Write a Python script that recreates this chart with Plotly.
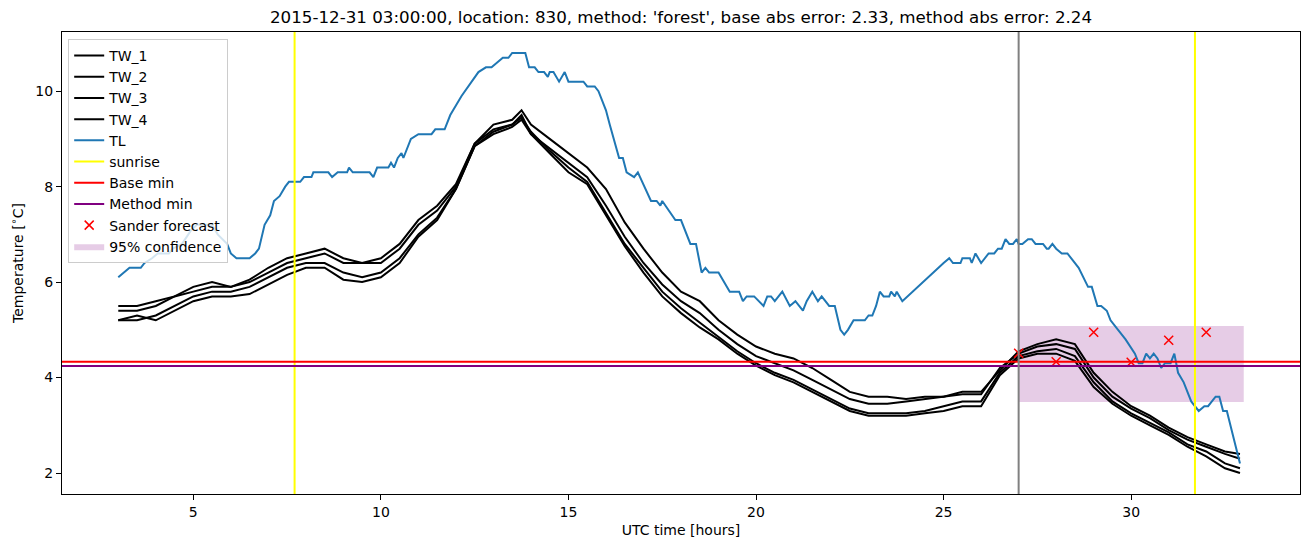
import plotly.graph_objects as go

# time axis of the TW sensors [hours, UTC]
tw_hours = [3.0, 3.5, 4.0, 4.5, 5.0, 5.5, 6.0, 6.5, 7.0, 7.5, 8.0, 8.5, 9.0, 9.5, 10.0, 10.5,
            11.0, 11.5, 12.0, 12.5, 13.0, 13.5, 13.75, 14.0, 14.5, 15.0, 15.5, 16.0, 16.5, 17.0,
            17.5, 18.0, 18.5, 19.0, 19.5, 20.0, 20.5, 21.0, 21.5, 22.0, 22.5, 23.0, 23.5, 24.0,
            24.5, 25.0, 25.5, 26.0, 26.5, 27.0, 27.5, 28.0, 28.5, 29.0, 29.5, 30.0, 30.5, 31.0,
            31.5, 32.0, 32.5, 32.9]

tw_1 = [5.5, 5.5, 5.6, 5.7, 5.9, 6.0, 5.9, 6.05, 6.3, 6.5, 6.6, 6.7, 6.5, 6.4, 6.5, 6.8,
        7.3, 7.6, 8.05, 8.9, 9.3, 9.4, 9.6, 9.3, 9.0, 8.7, 8.4, 7.95, 7.25, 6.7,
        6.2, 5.8, 5.6, 5.2, 4.9, 4.65, 4.5, 4.4, 4.2, 3.95, 3.7, 3.6, 3.6, 3.55,
        3.6, 3.6, 3.7, 3.7, 4.15, 4.55, 4.7, 4.8, 4.7, 4.1, 3.7, 3.4, 3.2, 2.95,
        2.75, 2.6, 2.45, 2.4]

tw_2 = [5.4, 5.4, 5.5, 5.7, 5.8, 5.9, 5.9, 6.0, 6.2, 6.4, 6.5, 6.6, 6.4, 6.4, 6.4, 6.7,
        7.2, 7.5, 8.0, 8.9, 9.2, 9.3, 9.5, 9.1, 8.8, 8.5, 8.2, 7.6, 6.95, 6.4,
        5.95, 5.6, 5.35, 5.0, 4.7, 4.45, 4.3, 4.15, 3.95, 3.75, 3.55, 3.45, 3.45, 3.5,
        3.55, 3.6, 3.65, 3.65, 4.2, 4.5, 4.65, 4.7, 4.6, 4.0, 3.6, 3.35, 3.15, 2.9,
        2.7, 2.55, 2.4, 2.3]

tw_3 = [5.2, 5.2, 5.3, 5.5, 5.7, 5.8, 5.8, 5.9, 6.1, 6.3, 6.4, 6.4, 6.2, 6.1, 6.2, 6.5,
        7.0, 7.35, 7.95, 8.85, 9.15, 9.3, 9.45, 9.15, 8.75, 8.4, 8.1, 7.45, 6.8, 6.3,
        5.8, 5.45, 5.15, 4.85, 4.55, 4.3, 4.1, 3.95, 3.75, 3.55, 3.35, 3.25, 3.25, 3.25,
        3.3, 3.4, 3.5, 3.5, 4.1, 4.45, 4.55, 4.6, 4.45, 3.9, 3.5, 3.25, 3.05, 2.85,
        2.6, 2.45, 2.2, 2.1]

tw_4 = [5.2, 5.3, 5.2, 5.4, 5.6, 5.7, 5.7, 5.75, 5.95, 6.15, 6.3, 6.3, 6.05, 6.0, 6.1, 6.4,
        6.95, 7.3, 7.95, 8.85, 9.1, 9.25, 9.4, 9.1, 8.7, 8.3, 8.05, 7.4, 6.75, 6.2,
        5.7, 5.35, 5.05, 4.8, 4.5, 4.25, 4.05, 3.9, 3.7, 3.5, 3.3, 3.2, 3.2, 3.2,
        3.25, 3.3, 3.4, 3.4, 4.05, 4.4, 4.5, 4.5, 4.35, 3.8, 3.45, 3.2, 3.0, 2.8,
        2.55, 2.35, 2.1, 2.0]

# air temperature TL
tl_hours = [3.0, 3.15, 3.3, 3.6, 3.7, 3.9, 4.05, 4.35, 4.45, 4.7, 4.95, 5.1, 5.5, 5.65, 5.9,
            6.0, 6.15, 6.5, 6.65, 6.75, 6.9, 7.05, 7.15, 7.3, 7.45, 7.55, 7.85, 7.95, 8.15,
            8.2, 8.6, 8.7, 8.85, 9.1, 9.15, 9.25, 9.7, 9.8, 9.9, 10.2, 10.27, 10.35, 10.45,
            10.55, 10.6, 10.8, 11.0, 11.35, 11.45, 11.7, 11.85, 12.15, 12.5, 12.6, 12.8,
            12.95, 13.1, 13.25, 13.4, 13.5, 13.85, 13.95, 14.1, 14.2, 14.35, 14.45, 14.5,
            14.6, 14.75, 14.9, 15.0, 15.4, 15.5, 15.7, 15.8, 16.0, 16.1, 16.35, 16.45, 16.55,
            16.75, 16.85, 17.2, 17.35, 17.45, 17.5, 17.85, 18.0, 18.25, 18.4, 18.55, 18.65,
            18.75, 19.0, 19.3, 19.55, 19.65, 19.75, 19.95, 20.2, 20.3, 20.4, 20.5, 20.7,
            20.9, 21.05, 21.25, 21.35, 21.5, 21.65, 21.75, 21.95, 22.1, 22.25, 22.35, 22.45,
            22.6, 22.9, 23.0, 23.1, 23.2, 23.3, 23.4, 23.55, 23.6, 23.7, 23.75, 23.9, 25.0,
            25.15, 25.25, 25.45, 25.5, 25.7, 25.75, 25.85, 26.0, 26.2, 26.35, 26.45, 26.55,
            26.65, 26.75, 26.85, 26.95, 27.0, 27.1, 27.25, 27.35, 27.45, 27.65, 27.75, 27.8,
            27.9, 28.0, 28.15, 28.3, 28.5, 28.6, 28.85, 28.95, 29.1, 29.2, 29.35, 29.4,
            29.45, 29.65, 29.85, 30.1, 30.2, 30.3, 30.4, 30.5, 30.6, 30.7, 30.8, 30.9,
            31.05, 31.15, 31.25, 31.4, 31.6, 31.8, 31.95, 32.05, 32.25, 32.35, 32.45, 32.55,
            32.9]
tl_values = [6.1, 6.2, 6.3, 6.3, 6.4, 6.5, 6.6, 6.6, 6.7, 6.8, 7.1, 7.2, 7.2, 7.0, 6.8,
             6.6, 6.5, 6.5, 6.6, 6.7, 7.2, 7.4, 7.7, 7.8, 8.0, 8.1, 8.1, 8.2, 8.2,
             8.3, 8.3, 8.2, 8.3, 8.3, 8.4, 8.3, 8.3, 8.2, 8.4, 8.4, 8.5, 8.4, 8.6,
             8.7, 8.6, 9.0, 9.1, 9.1, 9.2, 9.2, 9.5, 9.9, 10.3, 10.4, 10.5,
             10.5, 10.6, 10.7, 10.7, 10.8, 10.8, 10.5, 10.5, 10.4, 10.4, 10.3, 10.4,
             10.4, 10.2, 10.4, 10.2, 10.2, 10.1, 10.1, 10.0, 9.6, 9.3, 8.6, 8.6, 8.3,
             8.2, 8.3, 7.7, 7.7, 7.6, 7.7, 7.3, 7.3, 6.8, 6.8, 6.2, 6.3,
             6.2, 6.2, 5.8, 5.8, 5.6, 5.7, 5.7, 5.5, 5.7, 5.7, 5.6, 5.8,
             5.5, 5.6, 5.4, 5.6, 5.8, 5.6, 5.7, 5.5, 5.5, 5.0, 4.9, 5.0,
             5.2, 5.2, 5.3, 5.3, 5.5, 5.8, 5.7, 5.7, 5.8, 5.7, 5.8, 5.6, 6.4,
             6.5, 6.4, 6.4, 6.5, 6.5, 6.4, 6.6, 6.4, 6.6, 6.6, 6.7, 6.7,
             6.9, 6.8, 6.8, 6.9, 6.8, 6.8, 6.9, 6.9, 6.8, 6.8, 6.7, 6.7,
             6.8, 6.7, 6.6, 6.6, 6.4, 6.3, 5.9, 5.9, 5.5, 5.5, 5.4, 5.3,
             5.2, 5.0, 4.8, 4.5, 4.3, 4.3, 4.5, 4.4, 4.5, 4.4, 4.2, 4.3,
             4.3, 4.5, 4.1, 3.9, 3.5, 3.3, 3.4, 3.4, 3.6, 3.6, 3.3, 3.3,
             2.2]

sunrise_hours = [7.7, 31.7]
forecast_hour = 27.0
base_min = 4.33
method_min = 4.24

sander_hours = [27, 28, 29, 30, 31, 32]
sander_values = [4.51, 4.33, 4.95, 4.32, 4.78, 4.95]

conf_hours = [27.0, 33.0]
conf_low, conf_high = 3.49, 5.08

title = "2015-12-31 03:00:00, location: 830, method: 'forest', base abs error: 2.33, method abs error: 2.24"
font_family = 'DejaVu Sans'

fig = go.Figure()

# 95% confidence band (drawn first so that it sits under the lines)
fig.add_trace(go.Scatter(
    x=[conf_hours[0], conf_hours[1], conf_hours[1], conf_hours[0], conf_hours[0]],
    y=[conf_low, conf_low, conf_high, conf_high, conf_low],
    fill='toself', fillcolor='rgba(128,0,128,0.2)', mode='lines', line=dict(width=0),
    name='95% confidence', legendrank=10, hoverinfo='skip'))

for i, tw in enumerate([tw_1, tw_2, tw_3, tw_4]):
    fig.add_trace(go.Scatter(x=tw_hours, y=tw, mode='lines', name='TW_' + str(i + 1),
                             line=dict(color='black', width=2), legendrank=i + 1))

fig.add_trace(go.Scatter(x=tl_hours, y=tl_values, mode='lines', name='TL',
                         line=dict(color='#1f77b4', width=2), legendrank=5))

for i, h in enumerate(sunrise_hours):
    fig.add_shape(type='line', x0=h, x1=h, y0=0, y1=1, xref='x', yref='y domain',
                  line=dict(color='#ffff00', width=2), name='sunrise',
                  showlegend=(i == 0), legendrank=6)

fig.add_shape(type='line', x0=0, x1=1, y0=base_min, y1=base_min, xref='x domain', yref='y',
              line=dict(color='red', width=2), name='Base min', showlegend=True, legendrank=7)
fig.add_shape(type='line', x0=0, x1=1, y0=method_min, y1=method_min, xref='x domain', yref='y',
              line=dict(color='#800080', width=2), name='Method min', showlegend=True, legendrank=8)
fig.add_shape(type='line', x0=forecast_hour, x1=forecast_hour, y0=0, y1=1, xref='x', yref='y domain',
              line=dict(color='#808080', width=2))

fig.add_trace(go.Scatter(x=sander_hours, y=sander_values, mode='markers', name='Sander forecast',
                         marker=dict(symbol='x-thin', size=9, color='red', line=dict(color='red', width=1.5)),
                         legendrank=9))

axis_style = dict(showline=True, mirror=True, linecolor='black', linewidth=1, ticks='outside',
                  ticklen=5, tickcolor='black', showgrid=False, zeroline=False, automargin=False,
                  tickfont=dict(size=14, color='black'))

fig.update_xaxes(range=[1.5, 34.5], tickvals=[5, 10, 15, 20, 25, 30],
                 title=dict(text='UTC time [hours]', font=dict(size=14, color='black'), standoff=6),
                 **axis_style)
fig.update_yaxes(range=[1.56, 11.24], tickvals=[2, 4, 6, 8, 10],
                 title=dict(text='Temperature [<sup>∘</sup>C]', font=dict(size=14, color='black'), standoff=8),
                 **axis_style)

fig.update_layout(
    width=1310, height=547,
    margin=dict(l=62, r=10, t=32, b=53),
    plot_bgcolor='white', paper_bgcolor='white',
    font=dict(family=font_family, color='black'),
    title=dict(text=title, x=0.5, xref='paper', xanchor='center', y=1 - 17 / 547, yref='container',
               yanchor='middle', font=dict(size=16.7, color='black')),
    legend=dict(x=0.005, y=0.985, xanchor='left', yanchor='top', bgcolor='rgba(255,255,255,0.8)',
                bordercolor='#cccccc', borderwidth=1, font=dict(size=14, color='black')),
    showlegend=True,
)

# the page body has a default 8px margin; drop it so the figure fills the window
fig.write_html("out.html", config={'displayModeBar': False},
               post_script="document.body.style.margin='0px';")
